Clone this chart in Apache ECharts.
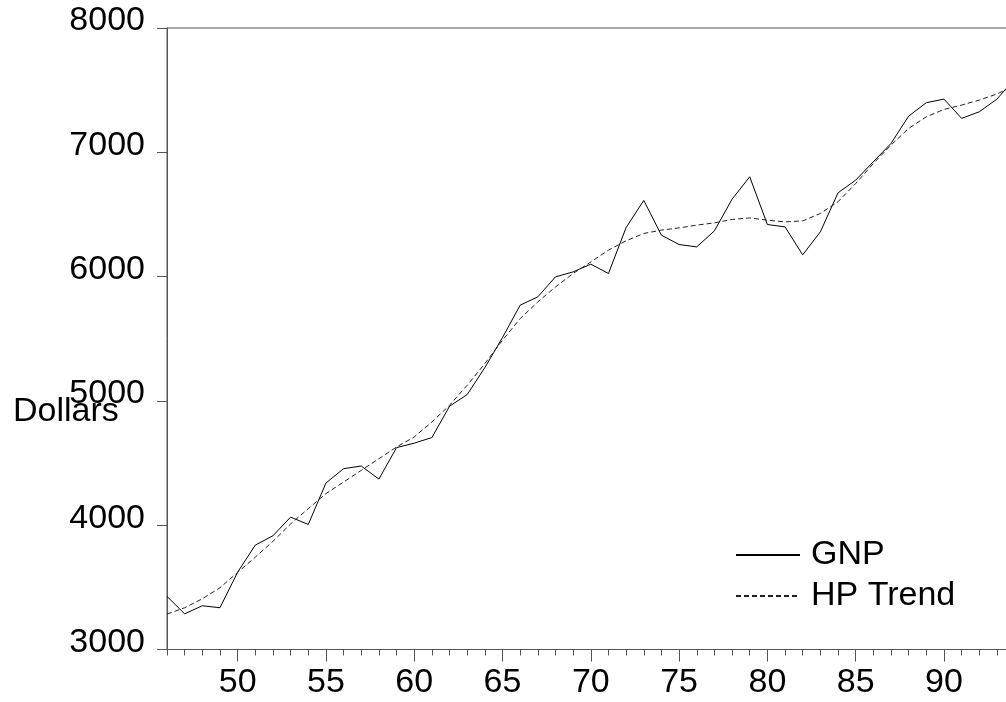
<!DOCTYPE html>
<html>
<head>
<meta charset="utf-8">
<script src="https://cdn.jsdelivr.net/npm/echarts@6/dist/echarts.min.js"></script>
<style>
  html, body { margin: 0; padding: 0; background: #fff; }
  #chart { width: 1006px; height: 702px; }
</style>
</head>
<body>
<div id="chart"></div>
<script>
// Real GNP per capita (dollars) and its Hodrick-Prescott trend, 1946-1994
const years = [46, 47, 48, 49, 50, 51, 52, 53, 54, 55, 56, 57, 58, 59, 60, 61, 62, 63, 64, 65,
  66, 67, 68, 69, 70, 71, 72, 73, 74, 75, 76, 77, 78, 79, 80, 81, 82, 83, 84, 85,
  86, 87, 88, 89, 90, 91, 92, 93, 94];
const gnp = [3427, 3287, 3352, 3336, 3622, 3840, 3915, 4065, 4006, 4339, 4455, 4476, 4371, 4624, 4660, 4705, 4957, 5051, 5268, 5510,
  5770, 5837, 5998, 6038, 6100, 6025, 6395, 6613, 6333, 6258, 6239, 6368, 6623, 6803, 6419, 6400, 6175, 6360, 6674, 6776,
  6924, 7071, 7291, 7399, 7428, 7273, 7326, 7428, 7590];
const hpTrend = [3285, 3336, 3408, 3497, 3620, 3743, 3870, 4010, 4133, 4254, 4347, 4441, 4535, 4629, 4710, 4830, 4965, 5126, 5300, 5488,
  5662, 5796, 5917, 6025, 6118, 6213, 6288, 6347, 6374, 6392, 6414, 6432, 6460, 6472, 6454, 6440, 6448, 6508, 6602, 6749,
  6910, 7058, 7192, 7286, 7345, 7380, 7420, 7469, 7535];
const xLabels = [50, 55, 60, 65, 70, 75, 80, 85, 90];
const yTicks = [3000, 4000, 5000, 6000, 7000, 8000];

const FONT = "'Liberation Sans', Arial, sans-serif";
const AXIS_COLOR = '#555';

const pairs = (vals) => years.map((y, i) => [y, vals[i]]);

const chart = echarts.init(document.getElementById('chart'), null, { renderer: 'canvas' });
chart.setOption({
  animation: false,
  backgroundColor: '#fff',
  grid: {
    left: 167, top: 28, width: 847.6, height: 621.5,
    containLabel: false, outerBoundsMode: 'none',
    show: true, borderColor: AXIS_COLOR, borderWidth: 1
  },
  xAxis: [{
    type: 'value', min: 46, max: 94,
    axisLine: { show: true, onZero: false, lineStyle: { color: AXIS_COLOR, width: 1 } },
    axisTick: { show: true, inside: false, length: 12, customValues: xLabels, lineStyle: { color: AXIS_COLOR } },
    axisLabel: {
      customValues: xLabels, margin: 16, color: '#000', fontFamily: FONT, fontSize: 34,
      formatter: (v) => String(v)
    },
    splitLine: { show: false }
  }, {
    // yearly minor ticks
    type: 'value', min: 46, max: 94, position: 'bottom',
    axisLine: { show: false, onZero: false },
    axisTick: { show: true, length: 6, customValues: years, lineStyle: { color: AXIS_COLOR } },
    axisLabel: { show: false },
    splitLine: { show: false }
  }],
  yAxis: {
    type: 'value', min: 3000, max: 8000, interval: 1000,
    axisLine: { show: true, lineStyle: { color: AXIS_COLOR, width: 1 } },
    axisTick: { show: true, length: 10, lineStyle: { color: AXIS_COLOR } },
    axisLabel: {
      customValues: yTicks, margin: 22, color: '#000', fontFamily: FONT, fontSize: 34,
      verticalAlign: 'bottom', lineHeight: 14,
      formatter: (v) => String(v)
    },
    splitLine: { show: false }
  },
  legend: {
    orient: 'vertical', left: 730, top: 533,
    itemWidth: 64, itemHeight: 14, itemGap: 7,
    itemStyle: { opacity: 0 },
    textStyle: { color: '#000', fontFamily: FONT, fontSize: 34, padding: [0, 0, 0, 6] },
    data: ['GNP', 'HP Trend']
  },
  graphic: [{
    type: 'text', left: 13, top: 395,
    style: { text: 'Dollars', fill: '#000', font: "34px 'Liberation Sans', Arial, sans-serif" }
  }],
  series: [{
    name: 'GNP', type: 'line', xAxisIndex: 0, symbol: 'none',
    lineStyle: { color: '#000', width: 1 }, itemStyle: { color: '#000' },
    data: pairs(gnp)
  }, {
    name: 'HP Trend', type: 'line', xAxisIndex: 0, symbol: 'none',
    lineStyle: { color: '#222', width: 1, type: [5, 3] }, itemStyle: { color: '#222' },
    data: pairs(hpTrend)
  }]
});
</script>
</body>
</html>
